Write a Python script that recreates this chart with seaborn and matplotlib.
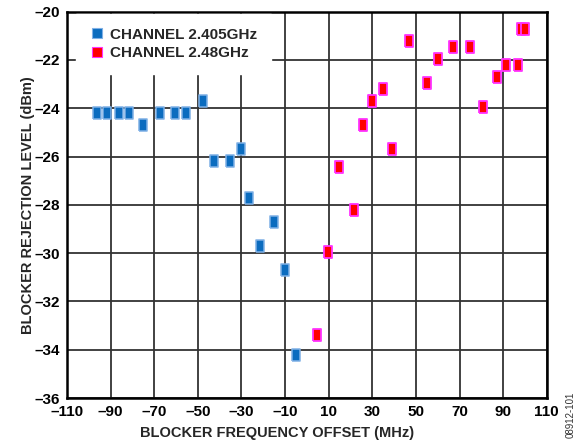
import matplotlib
matplotlib.use("Agg")
import matplotlib.pyplot as plt
from matplotlib.lines import Line2D
from matplotlib.ticker import FixedLocator, FixedFormatter
import seaborn as sns
import pandas as pd

# ---- data ----
ch1_label = "CHANNEL 2.405GHz"
ch1_offset = [-96.4, -91.5, -86.3, -81.4, -75.3, -67.3, -60.5, -55.4, -47.5,
              -42.4, -35.2, -30.3, -26.4, -21.3, -15.0, -10.0, -5.1]
ch1_level = [-24.2, -24.2, -24.2, -24.2, -24.7, -24.2, -24.2, -24.2, -23.7,
             -26.2, -26.2, -25.7, -27.7, -29.7, -28.7, -30.7, -34.2]

ch2_label = "CHANNEL 2.48GHz"
ch2_offset = [4.7, 9.8, 14.9, 21.8, 25.8, 29.8, 35.0, 38.9, 47.0, 55.0, 60.0,
              67.1, 75.0, 81.0, 87.1, 91.1, 96.6, 98.4, 100.1]
ch2_level = [-33.4, -29.95, -26.45, -28.2, -24.7, -23.7, -23.2, -25.7, -21.2,
             -22.95, -21.95, -21.45, -21.45, -23.95, -22.7, -22.2, -22.2,
             -20.7, -20.7]

x_ticks = [-110, -90, -70, -50, -30, -10, 10, 30, 50, 70, 90, 110]
y_ticks = [-36, -34, -32, -30, -28, -26, -24, -22, -20]
x_tick_labels = ["\u2013110", "\u201390", "\u201370", "\u201350", "\u201330", "\u201310",
                 "10", "30", "50", "70", "90", "110"]
y_tick_labels = ["\u201336", "\u201334", "\u201332", "\u201330", "\u201328", "\u201326",
                 "\u201324", "\u201322", "\u201320"]

x_label = "BLOCKER FREQUENCY OFFSET (MHz)"
y_label = "BLOCKER REJECTION LEVEL (dBm)"
code_text = "08912-101"

df1 = pd.DataFrame({"offset": ch1_offset, "level": ch1_level})
df2 = pd.DataFrame({"offset": ch2_offset, "level": ch2_level})

# ---- styling ----
sns.set_theme(style="white")
plt.rcParams["font.family"] = ["Liberation Sans", "DejaVu Sans"]
plt.rcParams["font.weight"] = "bold"

blue_fill = "#0b6cbf"
blue_edge = "#7fb0e6"
red_fill = "#ff0000"
red_edge = "#ff33ff"

rect = [(-0.62, -1), (0.62, -1), (0.62, 1), (-0.62, 1), (-0.62, -1)]

fig = plt.figure(figsize=(5.78, 4.46), dpi=100)
ax = fig.add_axes([0.1159, 0.1074, 0.8300, 0.8664])

sns.scatterplot(data=df1, x="offset", y="level", ax=ax, marker=rect, s=80,
                color=blue_fill, edgecolor=blue_edge, linewidth=1.1, zorder=3)
sns.scatterplot(data=df2, x="offset", y="level", ax=ax, marker=rect, s=80,
                color=red_fill, edgecolor=red_edge, linewidth=1.3, zorder=3)

ax.set_xlim(-110, 110)
ax.set_ylim(-36, -20)
ax.xaxis.set_major_locator(FixedLocator(x_ticks))
ax.xaxis.set_major_formatter(FixedFormatter(x_tick_labels))
ax.yaxis.set_major_locator(FixedLocator(y_ticks))
ax.yaxis.set_major_formatter(FixedFormatter(y_tick_labels))
ax.tick_params(axis="both", labelsize=11, length=0, colors="black")
ax.tick_params(axis="x", pad=5)
ax.tick_params(axis="y", pad=5)
for lab in ax.get_xticklabels() + ax.get_yticklabels():
    lab.set_fontweight("bold")

ax.grid(True, color="#333333", linewidth=1.3)
ax.set_axisbelow(True)
for sp in ax.spines.values():
    sp.set_color("black")
    sp.set_linewidth(1.8)
    sp.set_visible(True)

ax.set_xlabel(x_label, fontsize=10.5, fontweight="bold")
ax.set_ylabel(y_label, fontsize=10.5, fontweight="bold")
ax.xaxis.set_label_coords(0.4375, -0.072)
ax.yaxis.set_label_coords(-0.066, 0.5)

handles = [
    Line2D([], [], marker="s", linestyle="none", markersize=7,
           markerfacecolor=blue_fill, markeredgecolor=blue_edge, markeredgewidth=0.8),
    Line2D([], [], marker="s", linestyle="none", markersize=7,
           markerfacecolor=red_fill, markeredgecolor=red_edge, markeredgewidth=0.8),
]
leg = ax.legend(handles, [ch1_label, ch2_label], loc="upper left",
                bbox_to_anchor=(0.015, 1.0), frameon=True, fancybox=False,
                framealpha=1, facecolor="white", edgecolor="white",
                prop={"weight": "bold", "size": 11}, handletextpad=0.4,
                handlelength=0.9, labelspacing=0.3, borderpad=0.9,
                borderaxespad=0.15)
leg.set_zorder(5)

fig.text(0.988, 0.07, code_text, rotation=90, fontsize=7, fontweight="normal",
         color="#333333", ha="center", va="center")

fig.savefig("out.png", dpi=100)
